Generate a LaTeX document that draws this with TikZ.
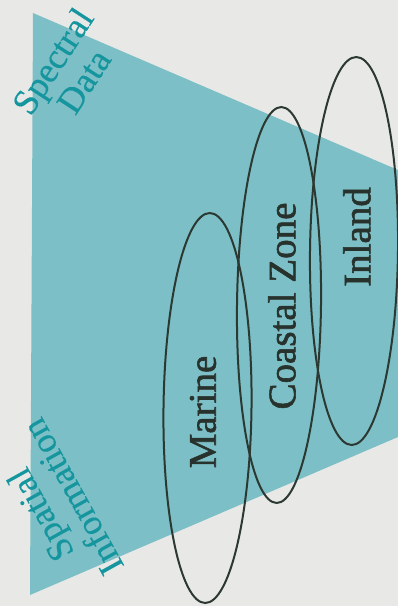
\documentclass[tikz,border=0pt]{standalone}
\usepackage{xcolor}
\usepackage{fontspec}
\setmainfont{Liberation Serif}
\newfontfamily\zonefont[FakeBold=1.5]{Liberation Serif}
\newfontfamily\axisfont[FakeBold=0.4]{Liberation Serif}
\usepackage{tikz}
\usetikzlibrary{shapes.geometric,positioning}

\definecolor{paper}{HTML}{E8E9E7}
\definecolor{sea}{HTML}{7CBFC6}
\definecolor{seaink}{HTML}{15959E}
\definecolor{rim}{HTML}{2C3832}

\begin{document}
\begin{tikzpicture}[
    x=1pt, y=-1pt,
    zone/.style={ellipse, draw=rim, line width=2pt, inner sep=0pt, minimum width=88pt, rotate=-0.7},
    zonelabel/.style={font=\zonefont\fontsize{39}{39}\selectfont, text=rim!90!black, rotate=90, inner sep=0pt},
    axislabel/.style={font=\axisfont\fontsize{36}{37}\selectfont, text=seaink, align=center, inner sep=0pt}
]

% --- BACKGROUND ---
\fill[paper] (0,0) rectangle (398,606);
\clip (0,0) rectangle (398,606);

% --- FUNNEL ---
\fill[sea] (33,13) -- (398,170) -- (398,437) -- (30,595) -- cycle;

% --- AXIS LABELS ---
\node (spectral) [axislabel, rotate=57] at (68,71) {Spectral\\Data};
\node (spatial)  [axislabel, rotate=119] at (56,506) {Spatial\\Information};

% --- ZONES ---
\node (marine)  [zone, minimum height=390pt] at (207.5,408) {};
\node (coastal) [zone, minimum height=396pt, minimum width=84pt] at (279,305) {};
\node (inland)  [zone, minimum height=388pt] at (354,251) {};

% zone names
\node (marinetxt)  [zonelabel] at ([xshift=-4.5pt, yshift=-4pt]marine.center) {Marine};
\node (coastaltxt) [zonelabel] at ([xshift=3pt, yshift=-1pt]coastal.center) {Coastal Zone};
\node (inlandtxt)  [zonelabel] at ([xshift=3pt, yshift=14pt]inland.center) {Inland};

\end{tikzpicture}
\end{document}
